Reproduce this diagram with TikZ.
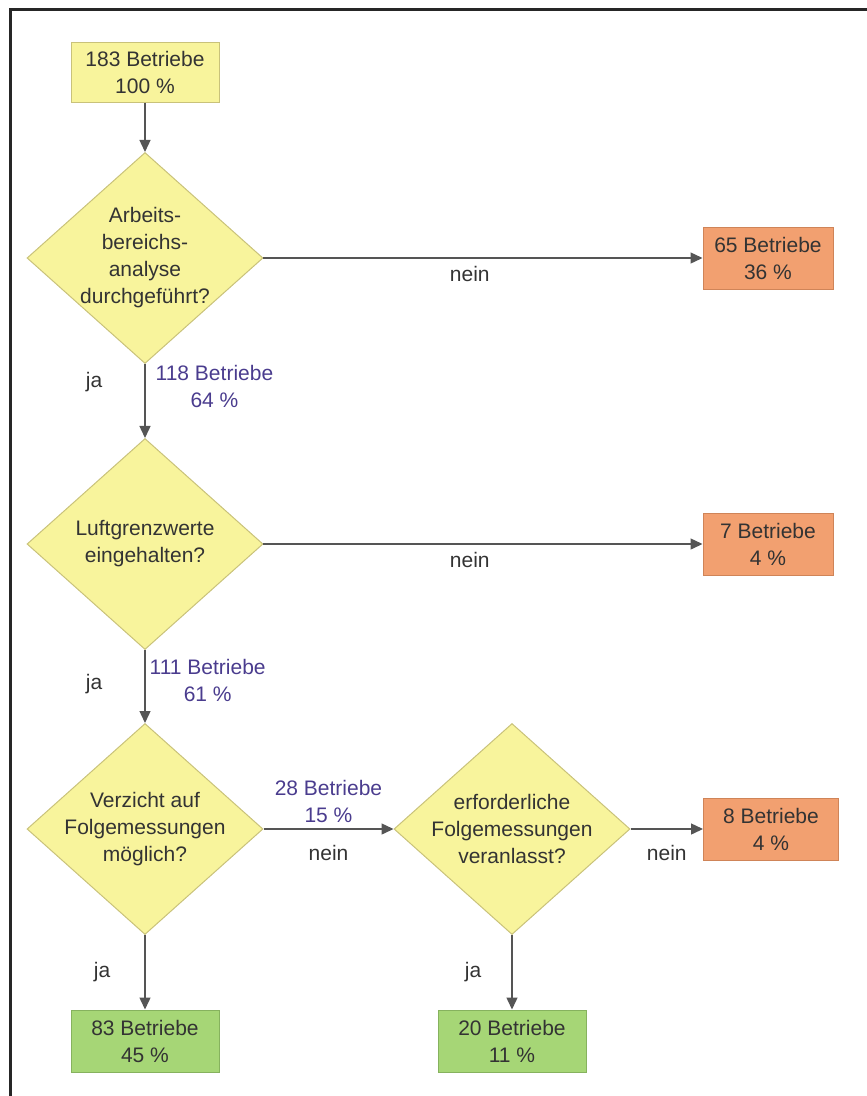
\documentclass[tikz,border=0pt]{standalone}
\usepackage{fontspec}
\setmainfont{Liberation Sans}
\usetikzlibrary{arrows.meta,shapes.geometric}
\definecolor{boxyellow}{HTML}{F8F49C}
\definecolor{lineyellow}{HTML}{C9C27A}
\definecolor{boxorange}{HTML}{F2A070}
\definecolor{lineorange}{HTML}{CF8458}
\definecolor{boxgreen}{HTML}{A6D676}
\definecolor{linegreen}{HTML}{86B25E}
\definecolor{countblue}{HTML}{4A3C8E}
\definecolor{flowgray}{HTML}{555555}
\definecolor{textgray}{HTML}{333333}
\tikzset{
  every node/.style={font=\fontsize{21}{27}\selectfont, text=textgray},
  startbox/.style={draw=lineyellow, fill=boxyellow, line width=1pt, align=center, minimum width=148pt, minimum height=60pt, inner sep=0pt},
  stopbox/.style={draw=lineorange, fill=boxorange, line width=1pt, align=center, minimum width=130pt, minimum height=62pt, inner sep=0pt},
  okbox/.style={draw=linegreen, fill=boxgreen, line width=1pt, align=center, minimum width=148pt, minimum height=62pt, inner sep=0pt},
  query/.style={diamond, draw=lineyellow, fill=boxyellow, line width=1pt, minimum width=236pt, minimum height=211pt, inner sep=0pt},
  flow/.style={draw=flowgray, line width=1.4pt, -{Triangle[length=12pt,width=11pt]}},
  answer/.style={inner sep=2pt},
  count/.style={inner sep=2pt, align=center, text=countblue}
}
\begin{document}
\begin{tikzpicture}[x=1pt,y=-1pt]
  \useasboundingbox (0,0) rectangle (867,1096);
  % frame
  \draw[line width=3pt, black!85] (10,1096) -- (10,9) -- (867,9);

  \node[startbox] (start) at (145,72) {183 Betriebe\\100 \%};

  \node[query, label={[align=center]center:Arbeits-\\bereichs-\\analyse\\durchgeführt?}] (q1) at (145,258) {};
  \node[stopbox] (no1) at (768,258) {65 Betriebe\\36 \%};

  \node[query, label={[align=center]center:Luftgrenzwerte\\eingehalten?}] (q2) at (145,544) {};
  \node[stopbox] (no2) at (768,544) {7 Betriebe\\4 \%};

  \node[query, label={[align=center]center:Verzicht auf\\Folgemessungen\\möglich?}] (q3) at (145,829) {};
  \node[query, label={[align=center]center:erforderliche\\Folgemessungen\\veranlasst?}] (q4) at (512,829) {};
  \node[stopbox, minimum width=135pt] (no3) at (771,829) {8 Betriebe\\4 \%};

  \node[okbox] (yes1) at (145,1041) {83 Betriebe\\45 \%};
  \node[okbox] (yes2) at (512,1041) {20 Betriebe\\11 \%};

  \draw[flow] (start) -- (q1);

  \draw[flow] (q1) -- node[answer, below=6pt, pos=0.47] {nein} (no1);
  \draw[flow] (q1) -- node[answer, left=40pt, pos=0.25] {ja}
                      node[count, right=8pt, pos=0.3] {118 Betriebe\\64 \%} (q2);

  \draw[flow] (q2) -- node[answer, below=6pt, pos=0.47] {nein} (no2);
  \draw[flow] (q2) -- node[answer, left=40pt, pos=0.47] {ja}
                      node[count, right=2pt, pos=0.42] {111 Betriebe\\61 \%} (q3);

  \draw[flow] (q3) -- node[count, above=4pt] {28 Betriebe\\15 \%}
                      node[answer, below=14pt] {nein} (q4);
  \draw[flow] (q4) -- node[answer, below=14pt] {nein} (no3);

  \draw[flow] (q3) -- node[answer, left=32pt] {ja} (yes1);
  \draw[flow] (q4) -- node[answer, left=28pt] {ja} (yes2);
\end{tikzpicture}
\end{document}
